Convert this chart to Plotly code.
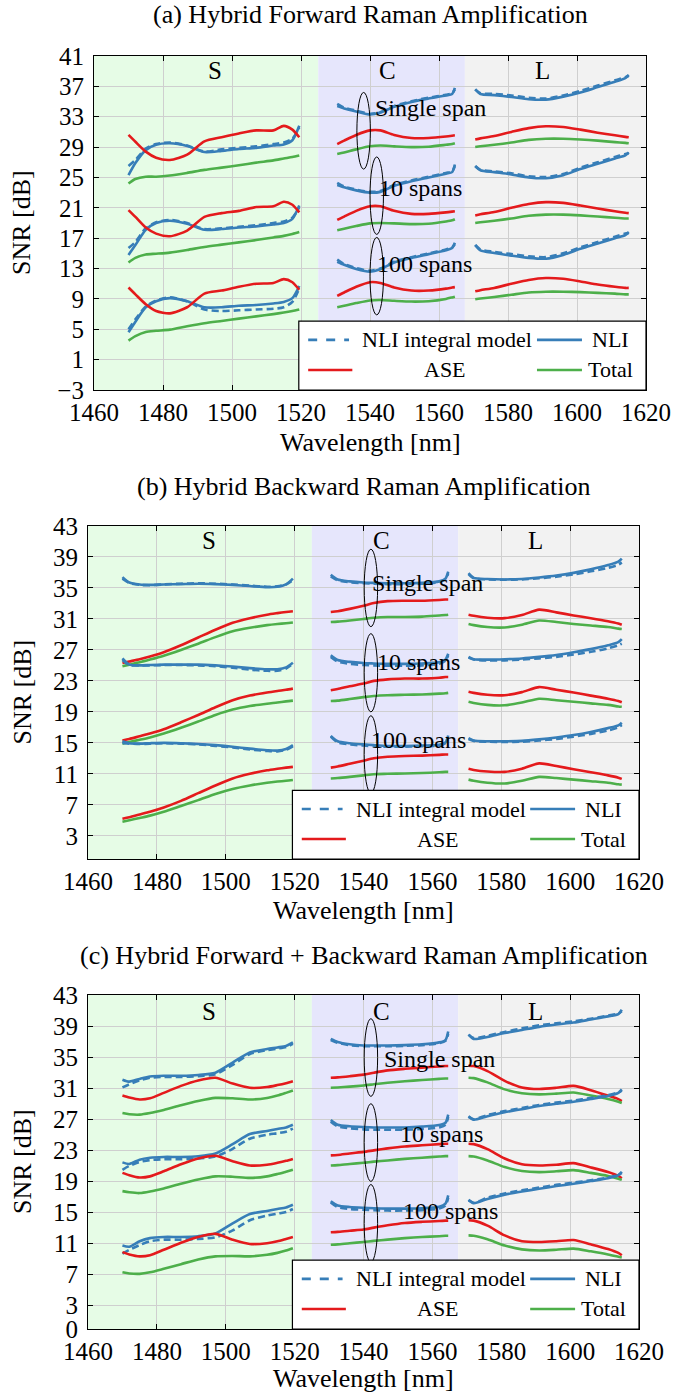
import plotly.graph_objects as go

# ---------------- data ----------------
WL_S = [1470, 1472, 1475, 1478, 1482, 1487, 1492, 1497, 1502, 1507, 1512, 1515, 1517.5, 1519.5]
WL_C = [1530.5, 1532.5, 1536, 1540, 1543, 1547, 1552, 1557, 1562, 1563.8, 1564.6]
WL_L = [1570.5, 1572, 1576, 1581, 1586, 1591, 1596, 1601, 1606, 1611, 1614, 1615]

SPANS = [1, 10, 100]
SPAN_LABELS = ["Single span", "10 spans", "100 spans"]
BAND_NAMES = ["S", "C", "L"]
BAND_EDGES = [1460, 1525, 1567.5, 1620]
BAND_COLORS = ["#e6fce6", "#e6e6fc", "#f2f2f2"]
X_TICKS = [1460, 1480, 1500, 1520, 1540, 1560, 1580, 1600, 1620]
TITLES = ["(a) Hybrid Forward Raman Amplification",
          "(b) Hybrid Backward Raman Amplification",
          "(c) Hybrid Forward + Backward Raman Amplification"]
Y_TICKS_A = [-3, 1, 5, 9, 13, 17, 21, 25, 29, 33, 37, 41]
Y_TICKS_B = [3, 7, 11, 15, 19, 23, 27, 31, 35, 39, 43]
Y_TICKS_C = [0, 3, 7, 11, 15, 19, 23, 27, 31, 35, 39, 43]
Y_RANGES = [[-3, 41], [0, 43], [0, 43]]

# ---- panel (a): forward ----
A_S_NLI = {1: [25.3, 26.9, 28.6, 29.3, 29.5, 29.15, 28.35, 28.5, 28.75, 28.9, 29.2, 29.35, 29.9, 31.8],
           10: [14.8, 16.1, 18.1, 19.0, 19.3, 18.9, 18.1, 18.2, 18.4, 18.55, 18.8, 19.0, 19.55, 21.3],
           100: [4.6, 6.0, 7.9, 8.7, 9.1, 8.7, 7.9, 7.9, 8.1, 8.2, 8.4, 8.6, 9.1, 10.7]}
A_S_MOD = {1: [26.5, 27.3, 28.8, 29.4, 29.6, 29.2, 28.4, 28.7, 28.9, 29.1, 29.4, 29.6, 30.1, 31.6],
           10: [15.7, 16.5, 18.3, 19.1, 19.4, 19.0, 18.2, 18.3, 18.5, 18.7, 19.0, 19.2, 19.7, 21.1],
           100: [5.0, 6.3, 8.0, 8.8, 9.2, 8.7, 7.6, 7.4, 7.5, 7.6, 7.7, 7.9, 8.6, 10.4]}
A_S_ASE = {1: [30.6, 29.7, 28.4, 27.6, 27.3, 28.0, 29.75, 30.3, 30.8, 31.2, 31.2, 31.8, 31.3, 30.3],
           10: [20.7, 19.8, 18.4, 17.6, 17.25, 18.0, 19.8, 20.3, 20.6, 21.1, 21.2, 21.8, 21.4, 20.4],
           100: [10.5, 9.6, 8.3, 7.4, 7.1, 7.9, 9.7, 10.1, 10.6, 11.0, 11.1, 11.6, 11.2, 10.2]}
A_S_TOT = {1: [24.2, 24.8, 25.1, 25.1, 25.25, 25.6, 26.0, 26.3, 26.6, 26.95, 27.25, 27.5, 27.7, 27.9],
           10: [13.8, 14.4, 14.85, 14.95, 15.1, 15.45, 15.85, 16.15, 16.45, 16.75, 17.1, 17.3, 17.55, 17.8],
           100: [3.5, 4.1, 4.65, 4.8, 4.95, 5.4, 5.8, 6.1, 6.4, 6.7, 7.0, 7.2, 7.4, 7.6]}
A_C_NLI = {1: [34.4, 34.1, 33.7, 33.3, 33.55, 34.3, 34.95, 35.4, 35.8, 36.0, 36.8],
           10: [24.0, 23.7, 23.3, 23.0, 23.1, 23.9, 24.5, 25.0, 25.5, 25.7, 26.7],
           100: [13.9, 13.5, 12.95, 12.6, 12.9, 13.8, 14.4, 14.9, 15.4, 15.7, 16.4]}
A_C_MOD = {1: [34.7, 34.2, 33.8, 33.4, 33.6, 34.4, 35.05, 35.5, 35.9, 36.1, 36.6],
           10: [24.3, 23.8, 23.4, 23.1, 23.2, 24.0, 24.6, 25.1, 25.6, 25.8, 26.5],
           100: [14.2, 13.6, 13.05, 12.7, 13.0, 13.9, 14.5, 15.0, 15.5, 15.8, 16.2]}
A_C_ASE = {1: [29.4, 29.85, 30.6, 31.2, 31.2, 30.6, 30.2, 30.2, 30.4, 30.5, 30.55],
           10: [19.4, 19.85, 20.6, 21.2, 21.2, 20.6, 20.2, 20.2, 20.4, 20.5, 20.55],
           100: [9.4, 9.85, 10.6, 11.2, 11.1, 10.5, 10.1, 10.1, 10.35, 10.5, 10.55]}
A_C_TOT = {1: [28.1, 28.3, 28.7, 29.1, 29.2, 29.1, 29.0, 29.05, 29.3, 29.4, 29.5],
           10: [18.05, 18.25, 18.6, 18.95, 19.0, 18.95, 18.85, 18.9, 19.2, 19.35, 19.5],
           100: [7.9, 8.1, 8.45, 8.8, 8.85, 8.75, 8.65, 8.7, 9.0, 9.2, 9.3]}
A_L_NLI = {1: [36.6, 36.0, 35.85, 35.6, 35.3, 35.25, 35.65, 36.2, 36.9, 37.6, 38.1, 38.5],
           10: [26.5, 25.95, 25.7, 25.4, 25.0, 24.9, 25.3, 26.1, 26.8, 27.5, 27.9, 28.3],
           100: [16.1, 15.4, 15.05, 14.7, 14.4, 14.3, 14.8, 15.6, 16.3, 17.0, 17.4, 17.8]}
A_L_MOD = {1: [36.6, 36.1, 36.0, 35.8, 35.5, 35.4, 35.8, 36.4, 37.1, 37.8, 38.2, 38.4],
           10: [26.5, 26.0, 25.8, 25.55, 25.15, 25.05, 25.45, 26.3, 27.0, 27.7, 28.1, 28.2],
           100: [16.1, 15.5, 15.2, 14.9, 14.6, 14.5, 15.0, 15.8, 16.5, 17.2, 17.6, 17.7]}
A_L_ASE = {1: [30.0, 30.15, 30.45, 31.0, 31.5, 31.75, 31.65, 31.3, 30.9, 30.55, 30.35, 30.3],
           10: [20.0, 20.15, 20.45, 21.0, 21.5, 21.75, 21.65, 21.3, 20.9, 20.55, 20.35, 20.3],
           100: [10.0, 10.15, 10.45, 11.0, 11.5, 11.75, 11.65, 11.3, 10.9, 10.6, 10.45, 10.45]}
A_L_TOT = {1: [29.0, 29.1, 29.3, 29.6, 29.95, 30.1, 30.1, 30.0, 29.85, 29.65, 29.55, 29.5],
           10: [19.0, 19.1, 19.3, 19.6, 19.95, 20.1, 20.1, 20.0, 19.85, 19.7, 19.6, 19.6],
           100: [8.95, 9.05, 9.25, 9.55, 9.85, 9.95, 9.95, 9.9, 9.8, 9.7, 9.6, 9.6]}

# ---- panel (b): backward ----
B_S_NLI = {1: [36.4, 35.7, 35.45, 35.4, 35.45, 35.5, 35.55, 35.5, 35.4, 35.25, 35.1, 35.15, 35.45, 36.2],
           10: [25.9, 25.1, 25.0, 25.05, 25.1, 25.1, 25.1, 25.0, 24.85, 24.65, 24.5, 24.5, 24.75, 25.35],
           100: [15.2, 14.95, 14.9, 14.95, 15.0, 14.95, 14.85, 14.7, 14.5, 14.25, 14.05, 14.0, 14.2, 14.7]}
B_S_MOD = {1: [36.2, 35.65, 35.4, 35.35, 35.45, 35.55, 35.6, 35.55, 35.45, 35.3, 35.15, 35.2, 35.45, 36.0],
           10: [25.7, 25.05, 25.0, 25.0, 25.05, 25.05, 25.0, 24.9, 24.7, 24.45, 24.3, 24.3, 24.6, 25.2],
           100: [15.0, 14.9, 14.85, 14.9, 14.95, 14.9, 14.8, 14.6, 14.4, 14.15, 13.95, 13.9, 14.1, 14.55]}
B_S_ASE = {1: [25.3, 25.5, 25.8, 26.15, 26.7, 27.6, 28.6, 29.6, 30.5, 31.1, 31.55, 31.75, 31.9, 32.0],
           10: [15.3, 15.5, 15.85, 16.2, 16.75, 17.65, 18.6, 19.6, 20.5, 21.1, 21.5, 21.7, 21.85, 22.0],
           100: [5.2, 5.4, 5.75, 6.1, 6.65, 7.5, 8.5, 9.5, 10.4, 11.0, 11.45, 11.65, 11.8, 11.9]}
B_S_TOT = {1: [24.9, 25.1, 25.4, 25.75, 26.25, 27.0, 27.8, 28.65, 29.4, 29.85, 30.2, 30.35, 30.45, 30.55],
           10: [14.9, 15.1, 15.4, 15.7, 16.2, 16.95, 17.75, 18.6, 19.3, 19.75, 20.05, 20.2, 20.35, 20.45],
           100: [4.8, 5.0, 5.3, 5.6, 6.1, 6.85, 7.6, 8.4, 9.05, 9.5, 9.85, 10.0, 10.1, 10.2]}
B_C_NLI = {1: [36.7, 36.1, 35.85, 35.7, 35.65, 35.6, 35.6, 35.65, 35.85, 36.2, 37.1],
           10: [26.3, 25.7, 25.45, 25.3, 25.25, 25.2, 25.2, 25.25, 25.4, 25.75, 26.5],
           100: [15.9, 15.2, 14.95, 14.8, 14.7, 14.6, 14.6, 14.65, 14.75, 15.05, 15.95]}
B_C_MOD = {1: [36.5, 36.0, 35.75, 35.6, 35.55, 35.5, 35.5, 35.55, 35.75, 36.1, 36.9],
           10: [26.1, 25.5, 25.2, 25.05, 25.0, 24.95, 24.95, 25.0, 25.2, 25.6, 26.3],
           100: [15.8, 15.05, 14.8, 14.65, 14.55, 14.5, 14.5, 14.55, 14.65, 14.95, 15.7]}
B_C_ASE = {1: [31.9, 32.0, 32.3, 32.7, 33.05, 33.3, 33.35, 33.35, 33.45, 33.5, 33.5],
           10: [21.8, 21.95, 22.3, 22.65, 23.0, 23.2, 23.3, 23.3, 23.4, 23.5, 23.5],
           100: [11.8, 11.95, 12.3, 12.7, 13.0, 13.2, 13.3, 13.35, 13.45, 13.5, 13.5]}
B_C_TOT = {1: [30.6, 30.65, 30.8, 31.0, 31.15, 31.25, 31.25, 31.3, 31.45, 31.5, 31.55],
           10: [20.4, 20.45, 20.65, 20.9, 21.05, 21.15, 21.2, 21.25, 21.35, 21.4, 21.45],
           100: [10.4, 10.45, 10.6, 10.8, 10.95, 11.0, 11.05, 11.1, 11.2, 11.25, 11.25]}
B_L_NLI = {1: [36.9, 36.3, 36.15, 36.1, 36.15, 36.35, 36.6, 36.95, 37.4, 37.95, 38.4, 38.8],
           10: [26.1, 25.8, 25.75, 25.8, 25.9, 26.1, 26.35, 26.7, 27.1, 27.6, 28.0, 28.4],
           100: [15.6, 15.3, 15.2, 15.2, 15.25, 15.45, 15.7, 16.0, 16.4, 16.9, 17.25, 17.6]}
B_L_MOD = {1: [36.8, 36.25, 36.1, 36.05, 36.1, 36.25, 36.45, 36.75, 37.15, 37.6, 38.0, 38.3],
           10: [26.0, 25.75, 25.65, 25.65, 25.75, 25.9, 26.1, 26.4, 26.75, 27.2, 27.6, 27.8],
           100: [15.5, 15.25, 15.15, 15.1, 15.15, 15.3, 15.5, 15.8, 16.15, 16.6, 17.0, 17.3]}
B_L_ASE = {1: [31.55, 31.4, 31.15, 31.1, 31.5, 32.2, 31.85, 31.45, 31.1, 30.7, 30.4, 30.25],
           10: [21.6, 21.45, 21.2, 21.15, 21.55, 22.2, 21.85, 21.5, 21.1, 20.7, 20.4, 20.25],
           100: [11.65, 11.5, 11.3, 11.25, 11.65, 12.35, 12.0, 11.6, 11.2, 10.8, 10.5, 10.35]}
B_L_TOT = {1: [30.35, 30.2, 29.95, 29.9, 30.25, 30.8, 30.6, 30.35, 30.15, 29.95, 29.75, 29.7],
           10: [20.3, 20.15, 19.9, 19.85, 20.2, 20.7, 20.5, 20.3, 20.1, 19.9, 19.7, 19.65],
           100: [10.25, 10.1, 9.85, 9.75, 10.1, 10.6, 10.45, 10.25, 10.05, 9.85, 9.65, 9.6]}

# ---- panel (c): forward + backward ----
C_S_NLI = {1: [32.1, 31.85, 32.2, 32.5, 32.6, 32.6, 32.7, 33.0, 34.3, 35.6, 36.05, 36.25, 36.45, 36.9],
           10: [21.45, 21.25, 21.8, 22.05, 22.15, 22.15, 22.25, 22.6, 23.8, 25.1, 25.5, 25.75, 25.95, 26.3],
           100: [10.75, 10.6, 11.3, 11.7, 11.85, 11.85, 11.95, 12.3, 13.6, 14.8, 15.2, 15.45, 15.65, 16.0]}
C_S_MOD = {1: [31.1, 31.5, 32.0, 32.35, 32.45, 32.45, 32.55, 32.8, 34.0, 35.4, 35.9, 36.1, 36.3, 36.7],
           10: [20.5, 21.0, 21.5, 21.75, 21.85, 21.85, 21.95, 22.2, 23.2, 24.5, 25.0, 25.2, 25.4, 25.8],
           100: [9.7, 10.2, 10.8, 11.3, 11.5, 11.5, 11.6, 11.8, 12.7, 14.0, 14.6, 14.85, 15.05, 15.45]}
C_S_ASE = {1: [30.05, 29.8, 29.55, 29.7, 30.4, 31.3, 32.0, 32.35, 31.6, 31.05, 31.15, 31.4, 31.65, 31.9],
           10: [20.1, 19.8, 19.5, 19.65, 20.3, 21.2, 21.95, 22.3, 21.6, 21.05, 21.15, 21.4, 21.65, 21.9],
           100: [9.9, 9.6, 9.35, 9.5, 10.2, 11.1, 11.85, 12.25, 11.5, 10.95, 11.05, 11.3, 11.6, 11.85]}
C_S_TOT = {1: [27.8, 27.65, 27.6, 27.8, 28.2, 28.8, 29.35, 29.75, 29.7, 29.55, 29.75, 30.05, 30.4, 30.7],
           10: [17.75, 17.6, 17.5, 17.7, 18.1, 18.7, 19.25, 19.65, 19.6, 19.45, 19.65, 19.95, 20.25, 20.5],
           100: [7.3, 7.15, 7.1, 7.3, 7.75, 8.35, 8.95, 9.35, 9.4, 9.35, 9.55, 9.8, 10.1, 10.4]}
C_C_NLI = {1: [37.35, 36.95, 36.65, 36.5, 36.5, 36.5, 36.55, 36.65, 36.9, 37.2, 38.3],
           10: [26.9, 26.3, 26.1, 26.0, 25.95, 25.95, 25.95, 26.05, 26.25, 26.55, 27.6],
           100: [16.45, 15.9, 15.7, 15.6, 15.55, 15.5, 15.5, 15.55, 15.75, 16.15, 17.2]}
C_C_MOD = {1: [37.2, 36.85, 36.55, 36.4, 36.4, 36.4, 36.45, 36.55, 36.8, 37.1, 38.0],
           10: [26.7, 26.1, 25.85, 25.7, 25.65, 25.65, 25.65, 25.75, 25.95, 26.3, 27.3],
           100: [16.3, 15.7, 15.45, 15.35, 15.3, 15.25, 15.25, 15.3, 15.5, 15.9, 16.9]}
C_C_ASE = {1: [32.35, 32.4, 32.55, 32.75, 33.0, 33.3, 33.5, 33.65, 33.8, 33.85, 33.85],
           10: [22.35, 22.4, 22.6, 22.8, 23.0, 23.25, 23.5, 23.65, 23.8, 23.85, 23.85],
           100: [12.45, 12.5, 12.65, 12.8, 13.05, 13.35, 13.65, 13.8, 13.9, 13.95, 13.95]}
C_C_TOT = {1: [31.05, 31.1, 31.2, 31.35, 31.5, 31.7, 31.9, 32.05, 32.2, 32.25, 32.25],
           10: [21.05, 21.1, 21.25, 21.4, 21.55, 21.7, 21.9, 22.05, 22.2, 22.25, 22.25],
           100: [10.85, 10.9, 11.05, 11.2, 11.35, 11.5, 11.7, 11.85, 11.95, 12.0, 12.0]}
C_L_NLI = {1: [37.9, 37.35, 37.6, 38.1, 38.5, 38.9, 39.2, 39.45, 39.85, 40.25, 40.55, 41.1],
           10: [27.4, 26.95, 27.4, 27.9, 28.3, 28.7, 29.0, 29.25, 29.6, 30.0, 30.4, 30.85],
           100: [16.65, 16.2, 16.75, 17.3, 17.7, 18.05, 18.4, 18.7, 19.05, 19.4, 19.8, 20.25]}
C_L_MOD = {1: [37.9, 37.45, 37.75, 38.25, 38.7, 39.1, 39.35, 39.6, 39.95, 40.35, 40.6, 40.9],
           10: [27.3, 27.0, 27.55, 28.05, 28.45, 28.85, 29.15, 29.4, 29.75, 30.1, 30.45, 30.7],
           100: [16.55, 16.25, 16.9, 17.45, 17.85, 18.2, 18.55, 18.85, 19.15, 19.5, 19.85, 20.1]}
C_L_ASE = {1: [33.9, 33.85, 33.2, 31.95, 31.1, 30.9, 31.05, 31.3, 30.75, 30.05, 29.6, 29.35],
           10: [23.85, 23.8, 23.15, 21.95, 21.2, 21.05, 21.15, 21.35, 20.8, 20.2, 19.7, 19.4],
           100: [14.0, 13.95, 13.3, 12.05, 11.3, 11.2, 11.3, 11.45, 10.9, 10.3, 9.8, 9.5]}
C_L_TOT = {1: [32.35, 32.3, 31.75, 30.85, 30.35, 30.2, 30.3, 30.45, 30.05, 29.6, 29.25, 29.1],
           10: [22.25, 22.2, 21.7, 20.85, 20.35, 20.2, 20.3, 20.45, 20.1, 19.7, 19.35, 19.2],
           100: [12.05, 12.0, 11.55, 10.75, 10.25, 10.1, 10.2, 10.35, 10.0, 9.6, 9.3, 9.2]}

# annotation positions (data coordinates)
ELL_X = [[1536.2, 1540.0, 1540.0], [1540.2, 1540.2, 1540.2], [1540.2, 1540.2, 1540.2]]
ELL_W = 3.9
ELL_Y = [[(26.1, 36.2), (17.5, 27.7), (6.9, 17.1)],
         [(30.0, 40.0), (19.0, 29.1), (8.5, 18.5)],
         [(29.95, 39.95), (19.0, 29.0), (8.6, 18.6)]]
LBL_POS = [[(1540.8, 34.2), (1542.1, 23.6), (1541.4, 13.6)],
           [(1541.8, 35.6), (1543.3, 25.5), (1541.6, 15.35)],
           [(1545.5, 34.8), (1550.1, 25.1), (1551.0, 15.15)]]
BAND_LBL_X = [1495, 1545.2, 1590]
BAND_LBL_Y = [39.1, 41.1, 40.9]

PANELS = [
    [(WL_S, A_S_NLI, A_S_MOD, A_S_ASE, A_S_TOT), (WL_C, A_C_NLI, A_C_MOD, A_C_ASE, A_C_TOT),
     (WL_L, A_L_NLI, A_L_MOD, A_L_ASE, A_L_TOT)],
    [(WL_S, B_S_NLI, B_S_MOD, B_S_ASE, B_S_TOT), (WL_C, B_C_NLI, B_C_MOD, B_C_ASE, B_C_TOT),
     (WL_L, B_L_NLI, B_L_MOD, B_L_ASE, B_L_TOT)],
    [(WL_S, C_S_NLI, C_S_MOD, C_S_ASE, C_S_TOT), (WL_C, C_C_NLI, C_C_MOD, C_C_ASE, C_C_TOT),
     (WL_L, C_L_NLI, C_L_MOD, C_L_ASE, C_L_TOT)],
]
Y_TICKS = [Y_TICKS_A, Y_TICKS_B, Y_TICKS_C]

# ---------------- styling / layout ----------------
BLUE, RED, GREEN = "#377eb8", "#e41a1c", "#4daf4a"
FONT = "Liberation Serif"
H, W = 1397, 673
LW = 2.6
DASH = "7px,4px"

# page pixel geometry of each axes box
X_DOM_PX = [(94, 646), (88, 639), (88, 639)]
Y_DOM_PX = [(56, 390), (526, 859), (995, 1329)]
TITLE_Y_PX = [15, 487, 955]
XTITLE_Y_PX = [443, 910, 1378]

fig = go.Figure()
shapes, annotations = [], []
layout_axes = {}

for p, bands in enumerate(PANELS):
    n = p + 1
    xa = "x" if n == 1 else f"x{n}"
    ya = "y" if n == 1 else f"y{n}"
    for (wl, nli, mod, ase, tot) in bands:
        for s in SPANS:
            for series, color, dash in ((mod, BLUE, DASH), (nli, BLUE, "solid"),
                                        (ase, RED, "solid"), (tot, GREEN, "solid")):
                fig.add_trace(go.Scatter(
                    x=wl, y=series[s], mode="lines", xaxis=xa, yaxis=ya,
                    line=dict(color=color, width=LW, dash=dash, shape="spline", smoothing=0.7),
                    showlegend=False, hoverinfo="skip"))
    # band backgrounds
    for b in range(3):
        shapes.append(dict(type="rect", xref=xa, yref=f"{ya} domain",
                           x0=BAND_EDGES[b], x1=BAND_EDGES[b + 1], y0=0, y1=1,
                           fillcolor=BAND_COLORS[b], line=dict(width=0), layer="below"))
        annotations.append(dict(x=BAND_LBL_X[b], y=BAND_LBL_Y[p], xref=xa, yref=ya,
                                text=BAND_NAMES[b], showarrow=False,
                                font=dict(family=FONT, size=25, color="black")))
    # ellipses + span labels
    for k in range(3):
        x0 = ELL_X[p][k]
        y0, y1 = ELL_Y[p][k]
        shapes.append(dict(type="circle", xref=xa, yref=ya, x0=x0, x1=x0 + ELL_W,
                           y0=y0, y1=y1, line=dict(color="black", width=1), layer="above"))
        lx, ly = LBL_POS[p][k]
        annotations.append(dict(x=lx, y=ly, xref=xa, yref=ya, text=SPAN_LABELS[k],
                                showarrow=False, xanchor="left", yanchor="middle",
                                font=dict(family=FONT, size=24, color="black")))
    # legend box
    xd, yd = f"{xa} domain", f"{ya} domain"
    shapes.append(dict(type="rect", xref=xd, yref=yd, x0=0.371, x1=1.0, y0=0.0, y1=0.206,
                       fillcolor="white", line=dict(color="black", width=1.2), layer="above"))
    for (sx0, sx1, sy, col, dsh) in ((0.388, 0.462, 0.150, BLUE, "dash"),
                                     (0.8025, 0.884, 0.150, BLUE, "solid"),
                                     (0.388, 0.468, 0.060, RED, "solid"),
                                     (0.8025, 0.884, 0.060, GREEN, "solid")):
        shapes.append(dict(type="line", xref=xd, yref=yd, x0=sx0, x1=sx1, y0=sy, y1=sy,
                           line=dict(color=col, width=LW, dash=dsh), layer="above"))
    for (tx, ty, txt, anc) in ((0.482, 0.150, "NLI integral model", "left"),
                               (0.935, 0.150, "NLI", "center"),
                               (0.636, 0.060, "ASE", "center"),
                               (0.935, 0.060, "Total", "center")):
        annotations.append(dict(x=tx, y=ty, xref=xd, yref=yd, text=txt, showarrow=False,
                                xanchor=anc, yanchor="middle",
                                font=dict(family=FONT, size=22, color="black")))
    # titles
    xl, xr = X_DOM_PX[p]
    yt, yb = Y_DOM_PX[p]
    annotations.append(dict(x=(xl + xr) / 2 / W, y=1 - TITLE_Y_PX[p] / H, xref="paper", yref="paper",
                            text=TITLES[p], showarrow=False, xanchor="center", yanchor="middle",
                            font=dict(family=FONT, size=26, color="black")))
    annotations.append(dict(x=(xl + xr) / 2 / W, y=1 - XTITLE_Y_PX[p] / H, xref="paper", yref="paper",
                            text="Wavelength [nm]", showarrow=False, xanchor="center", yanchor="middle",
                            font=dict(family=FONT, size=26, color="black")))
    annotations.append(dict(x=22 / W, y=1 - (yt + yb) / 2 / H, xref="paper", yref="paper",
                            text="SNR [dB]", showarrow=False, textangle=-90,
                            xanchor="center", yanchor="middle",
                            font=dict(family=FONT, size=26, color="black")))
    common = dict(showgrid=True, gridcolor="#cfcfcf", gridwidth=1, showline=True,
                  linecolor="black", linewidth=1.2, mirror="ticks", ticks="inside",
                  ticklen=5, tickcolor="black", zeroline=False,
                  tickfont=dict(family=FONT, size=25, color="black"))
    layout_axes["xaxis" if n == 1 else f"xaxis{n}"] = dict(
        domain=[xl / W, xr / W], range=[1460, 1620], tickvals=X_TICKS,
        anchor=ya, **common)
    layout_axes["yaxis" if n == 1 else f"yaxis{n}"] = dict(
        domain=[1 - yb / H, 1 - yt / H], range=Y_RANGES[p], tickvals=Y_TICKS[p],
        anchor=xa, ticklabelstandoff=4, **common)

fig.update_layout(width=W, height=H, margin=dict(l=0, r=0, t=0, b=0),
                  template="none", paper_bgcolor="white", plot_bgcolor="white",
                  showlegend=False, shapes=shapes, annotations=annotations, **layout_axes)

fig.write_html("out.html")
